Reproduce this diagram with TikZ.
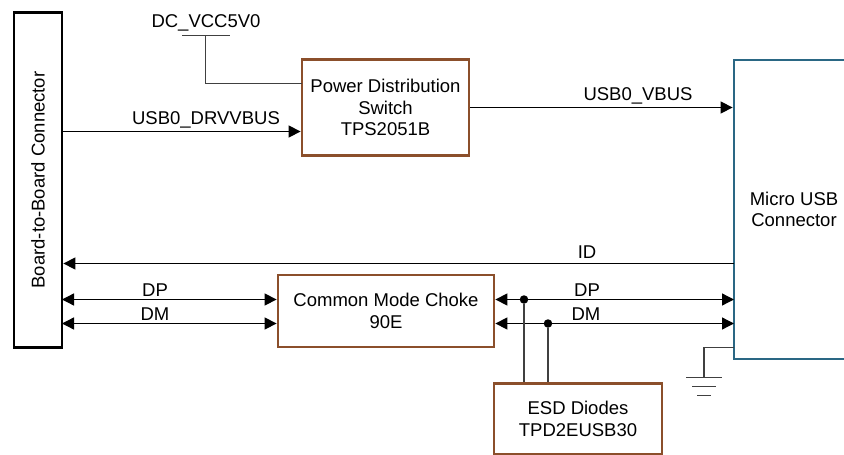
\documentclass[tikz,border=0pt]{standalone}
\usepackage{fontspec}
\setmainfont{Liberation Sans}
\usetikzlibrary{arrows.meta}
\definecolor{boxbrown}{HTML}{8B4F2B}
\definecolor{boxblue}{HTML}{2A6784}
\definecolor{wiregray}{HTML}{404040}
\tikzset{
  blockbox/.style={draw=boxbrown, line width=2.8pt, align=center},
  sig/.style={draw=black, line width=1.3pt, -{Triangle[length=12pt,width=12pt]}},
  bisig/.style={draw=black, line width=1.3pt, {Triangle[length=12pt,width=12pt]}-{Triangle[length=12pt,width=12pt]}},
  wire/.style={draw=wiregray, line width=1.5pt},
  sigtext/.style={anchor=base, inner sep=0pt},
  junction/.style={fill=black, circle, inner sep=0pt, minimum size=8.5pt}
}

\begin{document}
\begin{tikzpicture}[x=1pt, y=-1pt, font=\fontsize{18.5}{21.5}\selectfont]
  \path[use as bounding box, clip] (0,0) rectangle (844,455);

  \node[draw=black, line width=2.8pt, minimum width=48pt, minimum height=335pt] (board) at (38,180) {};
  \node[rotate=90] (boardtext) at (38,180) {Board-to-Board Connector};
  \node[blockbox, minimum width=167pt, minimum height=96pt] (switch) at (385.5,107.5) {Power Distribution\\Switch\\TPS2051B};
  \node[blockbox, minimum width=216pt, minimum height=72pt] (choke) at (386,311) {Common Mode Choke\\90E};
  \node[blockbox, minimum width=168pt, minimum height=71pt] (esd) at (578,419) {ESD Diodes\\TPD2EUSB30};
  \node[draw=boxblue, line width=2.8pt, minimum width=120pt, minimum height=299pt, align=center] (usb) at (794,209.5) {Micro USB\\Connector};

  \coordinate (drv) at (62,131.5);
  \coordinate (id) at (734,263.5);
  \coordinate (dpl) at (62,299.5);
  \coordinate (dml) at (62,323.5);
  \coordinate (dpr) at (734,299.5);
  \coordinate (dmr) at (734,323.5);
  \coordinate (vcc) at (205.5,35.5);
  \coordinate (vccl) at (182,35.5);
  \coordinate (vccr) at (230,35.5);
  \coordinate (vccin) at (302,83.5);
  \coordinate (gndtop) at (734,347.5);
  \coordinate (gnd) at (704,377.5);
  \coordinate (gndal) at (686,377.5);
  \coordinate (gndar) at (722,377.5);
  \coordinate (gndbl) at (692,386.5);
  \coordinate (gndbr) at (716,386.5);
  \coordinate (gndcl) at (697,395.5);
  \coordinate (gndcr) at (711,395.5);

  \node[junction] (dpdot) at (524,299.5) {};
  \node[junction] (dmdot) at (548,323.5) {};

  \draw[wire] (vcc) |- (vccin);
  \draw[line width=1.2pt, draw=wiregray] (vccl) -- (vccr);
  \draw[sig] (drv) -- (switch.west |- drv);
  \draw[sig] (switch.east) -- (usb.west |- switch.east);
  \draw[sig] (id) -- (board.east |- id);
  \draw[bisig] (dpl) -- (choke.west |- dpl);
  \draw[bisig] (dml) -- (choke.west |- dml);
  \draw[bisig] (choke.east |- dpr) -- (dpr);
  \draw[bisig] (choke.east |- dmr) -- (dmr);
  \draw[wire] (dpdot) -- (dpdot |- esd.north);
  \draw[wire] (dmdot) -- (dmdot |- esd.north);
  \draw[wire] (gndtop) -| (gnd);
  \draw[line width=1.2pt, draw=wiregray] (gndal) -- (gndar);
  \draw[line width=1.2pt, draw=wiregray] (gndbl) -- (gndbr);
  \draw[line width=1.2pt, draw=wiregray] (gndcl) -- (gndcr);

  \node[sigtext] (vcctext) at (206,27.5) {DC\_VCC5V0};
  \node[sigtext] (drvtext) at (206,124) {USB0\_DRVVBUS};
  \node[sigtext] (vbustext) at (638,100) {USB0\_VBUS};
  \node[sigtext] (idtext) at (587,258) {ID};
  \node[sigtext] (dpltext) at (155,296) {DP};
  \node[sigtext] (dmltext) at (155,320) {DM};
  \node[sigtext] (dprtext) at (587,296) {DP};
  \node[sigtext] (dmrtext) at (586,320) {DM};
\end{tikzpicture}
\end{document}
